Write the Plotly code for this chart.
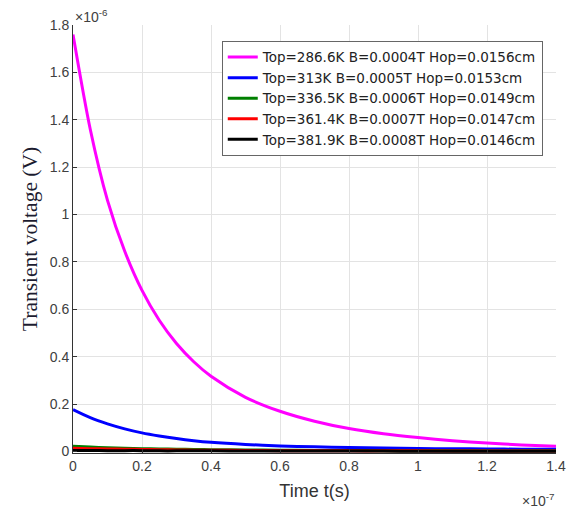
import plotly.graph_objects as go

# time axis in units of 1e-7 s, voltage in units of 1e-6 V
t_e7 = [0, 0.05, 0.1, 0.15, 0.2, 0.25, 0.3, 0.35, 0.4, 0.5,
        0.6, 0.7, 0.8, 0.9, 1.0, 1.1, 1.2, 1.3, 1.4]
v_top286 = [1.76, 1.36, 1.06, 0.845, 0.68, 0.554, 0.456, 0.379, 0.318, 0.229,
            0.170, 0.128, 0.097, 0.075, 0.059, 0.046, 0.036, 0.028, 0.022]
v_top313 = [0.177, 0.143, 0.117, 0.096, 0.079, 0.066, 0.055, 0.046, 0.039, 0.030,
            0.024, 0.020, 0.017, 0.015, 0.013, 0.012, 0.011, 0.010, 0.010]
v_top336 = [0.022, 0.019, 0.016, 0.014, 0.012, 0.011, 0.010, 0.009, 0.008, 0.007,
            0.006, 0.005, 0.005, 0.004, 0.004, 0.004, 0.003, 0.003, 0.003]
v_top361 = [0.014, 0.012, 0.011, 0.010, 0.009, 0.008, 0.007, 0.006, 0.006, 0.005,
            0.004, 0.004, 0.003, 0.003, 0.003, 0.002, 0.002, 0.002, 0.002]
v_top381 = [0.005, 0.005, 0.004, 0.004, 0.004, 0.003, 0.003, 0.003, 0.003, 0.002,
            0.002, 0.002, 0.002, 0.002, 0.001, 0.001, 0.001, 0.001, 0.001]

series = [
    ("Top=286.6K B=0.0004T Hop=0.0156cm", v_top286, "#ff00ff"),
    ("Top=313K B=0.0005T Hop=0.0153cm", v_top313, "#0000ff"),
    ("Top=336.5K B=0.0006T Hop=0.0149cm", v_top336, "#008000"),
    ("Top=361.4K B=0.0007T Hop=0.0147cm", v_top361, "#ff0000"),
    ("Top=381.9K B=0.0008T Hop=0.0146cm", v_top381, "#000000"),
]

x_ticks = [0, 0.2, 0.4, 0.6, 0.8, 1.0, 1.2, 1.4]
x_ticktext = ["0", "0.2", "0.4", "0.6", "0.8", "1", "1.2", "1.4"]
y_ticks = [0, 0.2, 0.4, 0.6, 0.8, 1.0, 1.2, 1.4, 1.6, 1.8]
y_ticktext = ["0", "0.2", "0.4", "0.6", "0.8", "1", "1.2", "1.4", "1.6", "1.8"]

fig = go.Figure()
for name, vals, col in series:
    fig.add_trace(go.Scatter(x=t_e7, y=vals, mode="lines", name=name,
                             line=dict(color=col, width=3, shape="spline", smoothing=0.8)))

sans = "Liberation Sans, Arial, sans-serif"
axis_font = dict(family=sans, size=14, color="#404040")
fig.update_layout(
    width=584, height=510,
    margin=dict(l=73, r=28, t=25, b=57),
    paper_bgcolor="white", plot_bgcolor="white",
    showlegend=True,
    legend=dict(x=0.308, y=0.963, xanchor="left", yanchor="top",
                bgcolor="white", bordercolor="#666666", borderwidth=1,
                font=dict(family="DejaVu Sans, sans-serif", size=13.5, color="#222222"),
                itemwidth=30, tracegroupgap=0),
    xaxis=dict(range=[0, 1.4], tickvals=x_ticks, ticktext=x_ticktext,
               showgrid=True, gridcolor="#e3e3e3", gridwidth=1,
               showline=True, linecolor="#333333", linewidth=1,
               ticks="inside", ticklen=4, tickcolor="#333333",
               tickfont=axis_font, zeroline=False,
               title=dict(text="Time t(s)", font=dict(family=sans, size=18, color="#333333"),
                          standoff=11)),
    yaxis=dict(range=[-0.006, 1.8], tickvals=y_ticks, ticktext=y_ticktext,
               showgrid=True, gridcolor="#e3e3e3", gridwidth=1,
               showline=True, linecolor="#333333", linewidth=1,
               ticks="inside", ticklen=4, tickcolor="#333333",
               tickfont=axis_font, zeroline=False,
               title=dict(text="Transient voltage (V)",
                          font=dict(family="Liberation Serif, Times New Roman, serif",
                                    size=21.5, color="#1c1c30"), standoff=6)),
)

fig.add_annotation(x=0, y=1.0, xref="paper", yref="paper", xanchor="left", yanchor="bottom",
                   yshift=-2, text="×10<sup>-6</sup>", showarrow=False,
                   font=dict(family=sans, size=14, color="#404040"))
fig.add_annotation(x=1.0, y=0, xref="paper", yref="paper", xanchor="right", yanchor="top",
                   yshift=-36, text="×10<sup>-7</sup>", showarrow=False,
                   font=dict(family=sans, size=14, color="#404040"))

fig.write_html("out.html")
